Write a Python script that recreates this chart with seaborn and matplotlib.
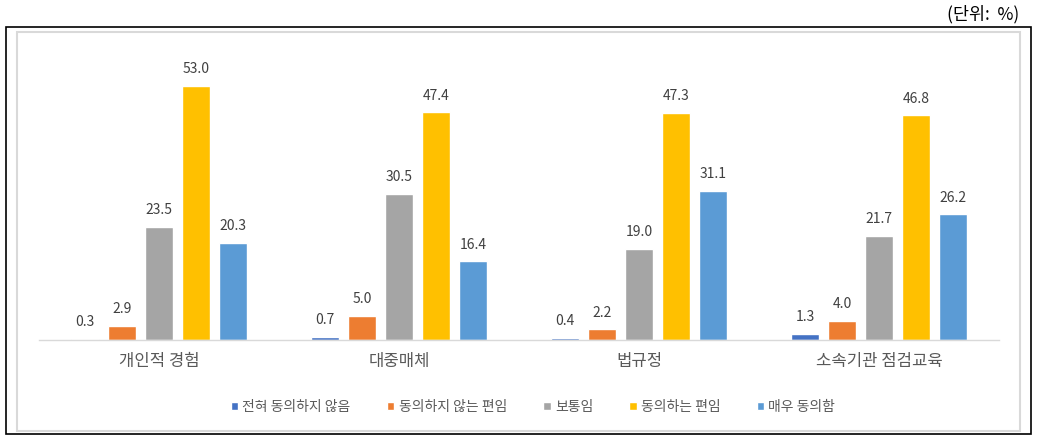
import matplotlib
matplotlib.use("Agg")
import matplotlib.pyplot as plt
import seaborn as sns
import pandas as pd
from matplotlib.patches import Rectangle

categories = ["개인적 경험", "대중매체", "법규정", "소속기관 점검교육"]
series_names = ["전혀 동의하지 않음", "동의하지 않는 편임", "보통임", "동의하는 편임", "매우 동의함"]
v_none = [0.3, 0.7, 0.4, 1.3]
v_disagree = [2.9, 5.0, 2.2, 4.0]
v_neutral = [23.5, 30.5, 19.0, 21.7]
v_agree = [53.0, 47.4, 47.3, 46.8]
v_strong = [20.3, 16.4, 31.1, 26.2]
colors = ["#4472C4", "#ED7D31", "#A5A5A5", "#FFC000", "#5B9BD5"]

rows = []
for name, vals in zip(series_names, [v_none, v_disagree, v_neutral, v_agree, v_strong]):
    for c, v in zip(categories, vals):
        rows.append({"category": c, "series": name, "value": v})
df = pd.DataFrame(rows)

sns.set_theme(style="white")
plt.rcParams['font.family'] = ['Noto Sans CJK KR', 'DejaVu Sans']

fig = plt.figure(figsize=(10.41, 4.40), dpi=100)
ax = fig.add_axes([39/1041, 100/440, 960/1041, 288/440])

sns.barplot(data=df, x="category", y="value", hue="series", order=categories,
            hue_order=series_names, palette=colors, width=0.77, gap=0.22,
            saturation=1, ax=ax, legend=True)

for cont in ax.containers:
    ax.bar_label(cont, fmt="%.1f", padding=7, fontsize=10, color="#404040")

ax.set_ylim(0, 60)
ax.set_xlim(-0.5, 3.5)
ax.set_xlabel("")
ax.set_ylabel("")
ax.set_yticks([])
for s in ["left", "right", "top"]:
    ax.spines[s].set_visible(False)
ax.spines["bottom"].set_color("#D9D9D9")
ax.spines["bottom"].set_linewidth(1.0)
ax.tick_params(axis="x", length=0, labelsize=12, labelcolor="#595959", pad=9)

handles, labels = ax.get_legend_handles_labels()
ax.legend(handles, labels, loc="center", bbox_to_anchor=(533/1041, 1 - 407/440),
          bbox_transform=fig.transFigure, ncol=5, frameon=False, fontsize=10,
          handlelength=0.55, handleheight=0.55, handletextpad=0.3, columnspacing=2.6,
          labelcolor="#595959")

# outer and inner frames
fig.add_artist(Rectangle((6/1041, 1 - 434/440), 1025/1041, 407/440,
                         transform=fig.transFigure, fill=False, edgecolor="black", linewidth=1.2))
fig.add_artist(Rectangle((17/1041, 1 - 431/440), 1003/1041, 399/440,
                         transform=fig.transFigure, fill=False, edgecolor="#D9D9D9", linewidth=1.5))

fig.text(1019/1041, 1 - 14/440, "(단위:  %)", ha="right", va="center", fontsize=12.5, color="black")

fig.savefig("out.png", dpi=100)
